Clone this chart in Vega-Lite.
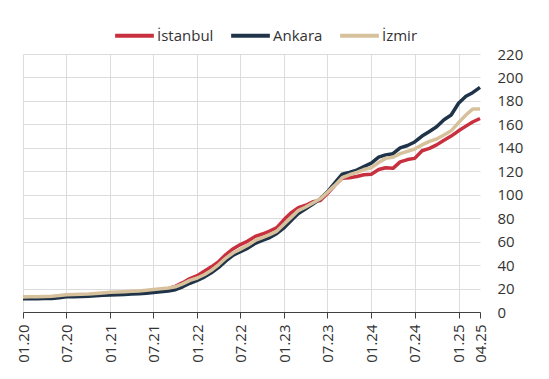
{
  "$schema": "https://vega.github.io/schema/vega-lite/v6.json",
  "autosize": {"type": "none"},
  "padding": {"left": 23, "top": 54, "right": 69, "bottom": 67},
  "width": 457,
  "height": 258,
  "background": "white",
  "config": {
    "font": "Open Sans",
    "view": {"stroke": null}
  },
  "data": {
    "values": [
      {"date":"2020-01-01","city":"İstanbul","value":12.3},{"date":"2020-02-01","city":"İstanbul","value":12.4},{"date":"2020-03-01","city":"İstanbul","value":12.5},{"date":"2020-04-01","city":"İstanbul","value":12.6},{"date":"2020-05-01","city":"İstanbul","value":12.8},{"date":"2020-06-01","city":"İstanbul","value":13.4},{"date":"2020-07-01","city":"İstanbul","value":14.1},{"date":"2020-08-01","city":"İstanbul","value":14.3},{"date":"2020-09-01","city":"İstanbul","value":14.5},{"date":"2020-10-01","city":"İstanbul","value":14.8},{"date":"2020-11-01","city":"İstanbul","value":15.2},{"date":"2020-12-01","city":"İstanbul","value":15.7},{"date":"2021-01-01","city":"İstanbul","value":16.1},{"date":"2021-02-01","city":"İstanbul","value":16.3},{"date":"2021-03-01","city":"İstanbul","value":16.6},{"date":"2021-04-01","city":"İstanbul","value":16.9},{"date":"2021-05-01","city":"İstanbul","value":17.3},{"date":"2021-06-01","city":"İstanbul","value":17.8},{"date":"2021-07-01","city":"İstanbul","value":18.4},{"date":"2021-08-01","city":"İstanbul","value":19.1},{"date":"2021-09-01","city":"İstanbul","value":19.9},{"date":"2021-10-01","city":"İstanbul","value":21.8},{"date":"2021-11-01","city":"İstanbul","value":25.0},{"date":"2021-12-01","city":"İstanbul","value":28.5},{"date":"2022-01-01","city":"İstanbul","value":31.0},{"date":"2022-02-01","city":"İstanbul","value":35.0},{"date":"2022-03-01","city":"İstanbul","value":38.5},{"date":"2022-04-01","city":"İstanbul","value":43.0},{"date":"2022-05-01","city":"İstanbul","value":49.0},{"date":"2022-06-01","city":"İstanbul","value":54.0},{"date":"2022-07-01","city":"İstanbul","value":57.5},{"date":"2022-08-01","city":"İstanbul","value":60.5},{"date":"2022-09-01","city":"İstanbul","value":64.5},{"date":"2022-10-01","city":"İstanbul","value":66.5},{"date":"2022-11-01","city":"İstanbul","value":69.0},{"date":"2022-12-01","city":"İstanbul","value":72.0},{"date":"2023-01-01","city":"İstanbul","value":79.0},{"date":"2023-02-01","city":"İstanbul","value":85.0},{"date":"2023-03-01","city":"İstanbul","value":89.0},{"date":"2023-04-01","city":"İstanbul","value":91.0},{"date":"2023-05-01","city":"İstanbul","value":94.0},{"date":"2023-06-01","city":"İstanbul","value":95.0},{"date":"2023-07-01","city":"İstanbul","value":101.0},{"date":"2023-08-01","city":"İstanbul","value":108.0},{"date":"2023-09-01","city":"İstanbul","value":114.0},{"date":"2023-10-01","city":"İstanbul","value":114.5},{"date":"2023-11-01","city":"İstanbul","value":115.5},{"date":"2023-12-01","city":"İstanbul","value":117.0},{"date":"2024-01-01","city":"İstanbul","value":117.5},{"date":"2024-02-01","city":"İstanbul","value":121.5},{"date":"2024-03-01","city":"İstanbul","value":123.0},{"date":"2024-04-01","city":"İstanbul","value":122.5},{"date":"2024-05-01","city":"İstanbul","value":128.0},{"date":"2024-06-01","city":"İstanbul","value":130.0},{"date":"2024-07-01","city":"İstanbul","value":131.0},{"date":"2024-08-01","city":"İstanbul","value":137.5},{"date":"2024-09-01","city":"İstanbul","value":139.5},{"date":"2024-10-01","city":"İstanbul","value":142.5},{"date":"2024-11-01","city":"İstanbul","value":146.5},{"date":"2024-12-01","city":"İstanbul","value":150.0},{"date":"2025-01-01","city":"İstanbul","value":154.5},{"date":"2025-02-01","city":"İstanbul","value":158.5},{"date":"2025-03-01","city":"İstanbul","value":162.0},{"date":"2025-04-01","city":"İstanbul","value":165.0},
      {"date":"2020-01-01","city":"Ankara","value":11.2},{"date":"2020-02-01","city":"Ankara","value":11.3},{"date":"2020-03-01","city":"Ankara","value":11.4},{"date":"2020-04-01","city":"Ankara","value":11.5},{"date":"2020-05-01","city":"Ankara","value":11.6},{"date":"2020-06-01","city":"Ankara","value":12.2},{"date":"2020-07-01","city":"Ankara","value":12.9},{"date":"2020-08-01","city":"Ankara","value":13.1},{"date":"2020-09-01","city":"Ankara","value":13.2},{"date":"2020-10-01","city":"Ankara","value":13.4},{"date":"2020-11-01","city":"Ankara","value":13.8},{"date":"2020-12-01","city":"Ankara","value":14.2},{"date":"2021-01-01","city":"Ankara","value":14.5},{"date":"2021-02-01","city":"Ankara","value":14.7},{"date":"2021-03-01","city":"Ankara","value":15.0},{"date":"2021-04-01","city":"Ankara","value":15.3},{"date":"2021-05-01","city":"Ankara","value":15.6},{"date":"2021-06-01","city":"Ankara","value":16.0},{"date":"2021-07-01","city":"Ankara","value":16.6},{"date":"2021-08-01","city":"Ankara","value":17.2},{"date":"2021-09-01","city":"Ankara","value":17.8},{"date":"2021-10-01","city":"Ankara","value":19.0},{"date":"2021-11-01","city":"Ankara","value":21.5},{"date":"2021-12-01","city":"Ankara","value":24.5},{"date":"2022-01-01","city":"Ankara","value":27.0},{"date":"2022-02-01","city":"Ankara","value":30.0},{"date":"2022-03-01","city":"Ankara","value":33.5},{"date":"2022-04-01","city":"Ankara","value":38.0},{"date":"2022-05-01","city":"Ankara","value":43.5},{"date":"2022-06-01","city":"Ankara","value":48.5},{"date":"2022-07-01","city":"Ankara","value":51.5},{"date":"2022-08-01","city":"Ankara","value":54.5},{"date":"2022-09-01","city":"Ankara","value":58.5},{"date":"2022-10-01","city":"Ankara","value":61.0},{"date":"2022-11-01","city":"Ankara","value":63.5},{"date":"2022-12-01","city":"Ankara","value":67.0},{"date":"2023-01-01","city":"Ankara","value":72.0},{"date":"2023-02-01","city":"Ankara","value":78.5},{"date":"2023-03-01","city":"Ankara","value":84.0},{"date":"2023-04-01","city":"Ankara","value":88.0},{"date":"2023-05-01","city":"Ankara","value":92.0},{"date":"2023-06-01","city":"Ankara","value":96.5},{"date":"2023-07-01","city":"Ankara","value":102.5},{"date":"2023-08-01","city":"Ankara","value":110.0},{"date":"2023-09-01","city":"Ankara","value":117.5},{"date":"2023-10-01","city":"Ankara","value":119.0},{"date":"2023-11-01","city":"Ankara","value":121.0},{"date":"2023-12-01","city":"Ankara","value":124.0},{"date":"2024-01-01","city":"Ankara","value":127.0},{"date":"2024-02-01","city":"Ankara","value":132.0},{"date":"2024-03-01","city":"Ankara","value":134.0},{"date":"2024-04-01","city":"Ankara","value":135.0},{"date":"2024-05-01","city":"Ankara","value":140.0},{"date":"2024-06-01","city":"Ankara","value":142.0},{"date":"2024-07-01","city":"Ankara","value":145.0},{"date":"2024-08-01","city":"Ankara","value":150.0},{"date":"2024-09-01","city":"Ankara","value":154.0},{"date":"2024-10-01","city":"Ankara","value":158.0},{"date":"2024-11-01","city":"Ankara","value":164.0},{"date":"2024-12-01","city":"Ankara","value":168.0},{"date":"2025-01-01","city":"Ankara","value":178.0},{"date":"2025-02-01","city":"Ankara","value":184.0},{"date":"2025-03-01","city":"Ankara","value":187.0},{"date":"2025-04-01","city":"Ankara","value":191.5},
      {"date":"2020-01-01","city":"İzmir","value":12.8},{"date":"2020-02-01","city":"İzmir","value":13.0},{"date":"2020-03-01","city":"İzmir","value":13.0},{"date":"2020-04-01","city":"İzmir","value":13.2},{"date":"2020-05-01","city":"İzmir","value":13.4},{"date":"2020-06-01","city":"İzmir","value":14.0},{"date":"2020-07-01","city":"İzmir","value":14.8},{"date":"2020-08-01","city":"İzmir","value":15.0},{"date":"2020-09-01","city":"İzmir","value":15.2},{"date":"2020-10-01","city":"İzmir","value":15.4},{"date":"2020-11-01","city":"İzmir","value":15.8},{"date":"2020-12-01","city":"İzmir","value":16.3},{"date":"2021-01-01","city":"İzmir","value":16.8},{"date":"2021-02-01","city":"İzmir","value":17.0},{"date":"2021-03-01","city":"İzmir","value":17.3},{"date":"2021-04-01","city":"İzmir","value":17.6},{"date":"2021-05-01","city":"İzmir","value":18.0},{"date":"2021-06-01","city":"İzmir","value":18.5},{"date":"2021-07-01","city":"İzmir","value":19.1},{"date":"2021-08-01","city":"İzmir","value":19.8},{"date":"2021-09-01","city":"İzmir","value":20.5},{"date":"2021-10-01","city":"İzmir","value":21.5},{"date":"2021-11-01","city":"İzmir","value":24.0},{"date":"2021-12-01","city":"İzmir","value":27.0},{"date":"2022-01-01","city":"İzmir","value":29.0},{"date":"2022-02-01","city":"İzmir","value":32.0},{"date":"2022-03-01","city":"İzmir","value":35.5},{"date":"2022-04-01","city":"İzmir","value":40.5},{"date":"2022-05-01","city":"İzmir","value":46.0},{"date":"2022-06-01","city":"İzmir","value":50.5},{"date":"2022-07-01","city":"İzmir","value":53.5},{"date":"2022-08-01","city":"İzmir","value":57.0},{"date":"2022-09-01","city":"İzmir","value":61.0},{"date":"2022-10-01","city":"İzmir","value":63.5},{"date":"2022-11-01","city":"İzmir","value":66.0},{"date":"2022-12-01","city":"İzmir","value":69.0},{"date":"2023-01-01","city":"İzmir","value":75.0},{"date":"2023-02-01","city":"İzmir","value":81.0},{"date":"2023-03-01","city":"İzmir","value":86.5},{"date":"2023-04-01","city":"İzmir","value":89.5},{"date":"2023-05-01","city":"İzmir","value":93.0},{"date":"2023-06-01","city":"İzmir","value":96.5},{"date":"2023-07-01","city":"İzmir","value":102.0},{"date":"2023-08-01","city":"İzmir","value":108.0},{"date":"2023-09-01","city":"İzmir","value":114.5},{"date":"2023-10-01","city":"İzmir","value":117.0},{"date":"2023-11-01","city":"İzmir","value":119.0},{"date":"2023-12-01","city":"İzmir","value":121.5},{"date":"2024-01-01","city":"İzmir","value":123.0},{"date":"2024-02-01","city":"İzmir","value":127.5},{"date":"2024-03-01","city":"İzmir","value":131.0},{"date":"2024-04-01","city":"İzmir","value":132.0},{"date":"2024-05-01","city":"İzmir","value":135.0},{"date":"2024-06-01","city":"İzmir","value":137.0},{"date":"2024-07-01","city":"İzmir","value":139.0},{"date":"2024-08-01","city":"İzmir","value":142.5},{"date":"2024-09-01","city":"İzmir","value":145.5},{"date":"2024-10-01","city":"İzmir","value":147.5},{"date":"2024-11-01","city":"İzmir","value":151.0},{"date":"2024-12-01","city":"İzmir","value":154.5},{"date":"2025-01-01","city":"İzmir","value":161.5},{"date":"2025-02-01","city":"İzmir","value":168.0},{"date":"2025-03-01","city":"İzmir","value":173.0},{"date":"2025-04-01","city":"İzmir","value":173.0}
    ]
  },
  "mark": {"type": "line", "strokeWidth": 3.5, "strokeJoin": "round", "strokeCap": "butt"},
  "encoding": {
    "x": {
      "field": "date",
      "type": "temporal",
      "scale": {"type": "utc", "nice": false},
      "axis": {
        "title": null,
        "labelExpr": "utcFormat(datum.value, '%m.%y')",
        "values": [
          {"year": 2020, "month": 1, "date": 1, "utc": true},
          {"year": 2020, "month": 7, "date": 1, "utc": true},
          {"year": 2021, "month": 1, "date": 1, "utc": true},
          {"year": 2021, "month": 7, "date": 1, "utc": true},
          {"year": 2022, "month": 1, "date": 1, "utc": true},
          {"year": 2022, "month": 7, "date": 1, "utc": true},
          {"year": 2023, "month": 1, "date": 1, "utc": true},
          {"year": 2023, "month": 7, "date": 1, "utc": true},
          {"year": 2024, "month": 1, "date": 1, "utc": true},
          {"year": 2024, "month": 7, "date": 1, "utc": true},
          {"year": 2025, "month": 1, "date": 1, "utc": true},
          {"year": 2025, "month": 4, "date": 1, "utc": true}
        ],
        "labelAngle": -90,
        "labelAlign": "right",
        "labelBaseline": "middle",
        "labelFontSize": 15,
        "labelColor": "#333333",
        "labelPadding": 6,
        "labelOverlap": false,
        "labelFlush": false,
        "tickSize": 6,
        "tickColor": "#404040",
        "domainColor": "#404040",
        "domainWidth": 1,
        "grid": true,
        "gridColor": "#dcdcdc",
        "gridOpacity": {"condition": {"test": "datum.value > utc(2025,1,15)", "value": 0}, "value": 1}
      }
    },
    "y": {
      "field": "value",
      "type": "quantitative",
      "scale": {"domain": [0, 220], "nice": false},
      "axis": {
        "title": null,
        "orient": "right",
        "values": [0, 20, 40, 60, 80, 100, 120, 140, 160, 180, 200, 220],
        "domain": false,
        "ticks": false,
        "labelPadding": 17,
        "labelFontSize": 15,
        "labelColor": "#333333",
        "grid": true,
        "gridColor": "#dcdcdc"
      }
    },
    "color": {
      "field": "city",
      "type": "nominal",
      "sort": ["İstanbul", "Ankara", "İzmir"],
      "scale": {"domain": ["İstanbul", "Ankara", "İzmir"], "range": ["#c8303f", "#1f3448", "#d6c19c"]},
      "legend": {
        "title": null,
        "orient": "none",
        "direction": "horizontal",
        "legendX": 90,
        "legendY": -40,
        "padding": 0,
        "symbolType": "stroke",
        "symbolSize": 1500,
        "symbolStrokeWidth": 4,
        "labelFontSize": 15,
        "labelColor": "#333333",
        "labelOffset": 1,
        "columnPadding": 9
      }
    }
  }
}
